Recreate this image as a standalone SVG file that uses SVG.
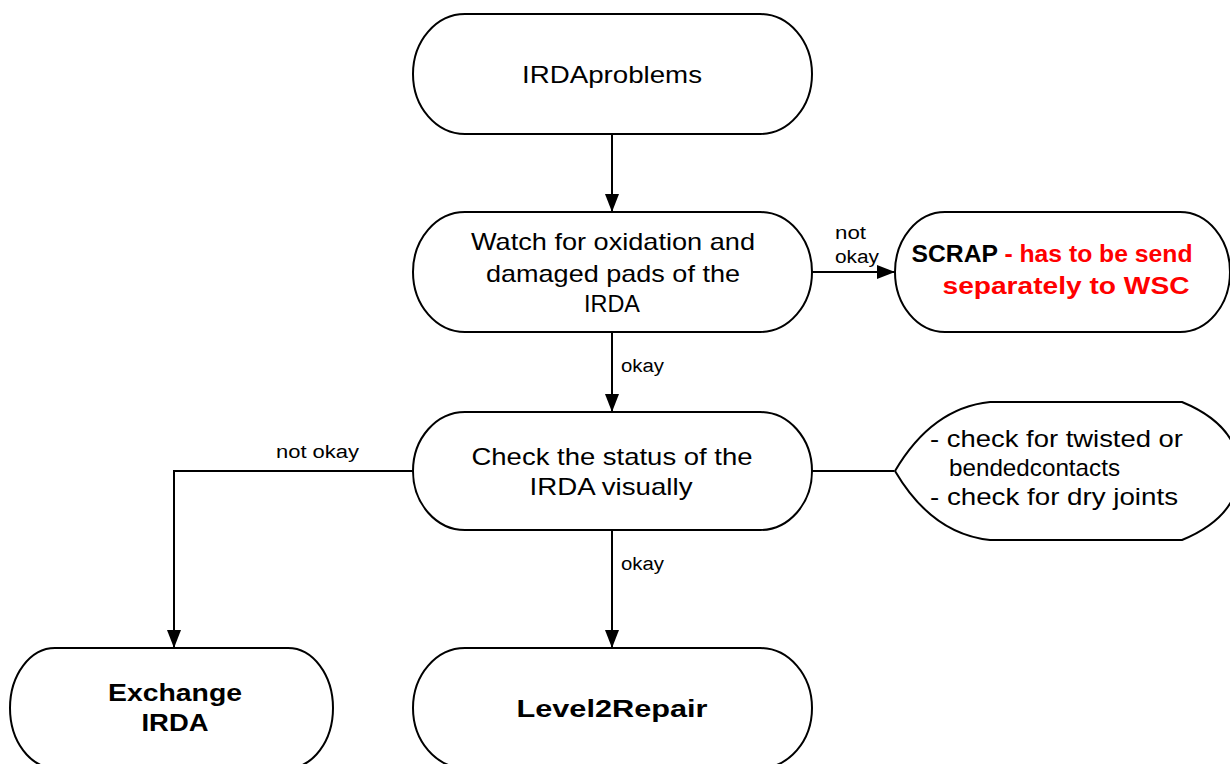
<svg xmlns="http://www.w3.org/2000/svg" width="1230" height="764" viewBox="0 0 1230 764">
<defs>
<marker id="arr" markerUnits="userSpaceOnUse" markerWidth="20" markerHeight="14" refX="18" refY="7" orient="auto">
<path d="M0,0 L18,7 L0,14 Z" fill="#000"/>
</marker>
<style>
.n{fill:#fff;stroke:#000;stroke-width:2}
.t{font-family:"Liberation Sans",Arial,sans-serif;font-size:24px;fill:#000;text-anchor:middle}
.b{font-family:"Liberation Sans",Arial,sans-serif;font-size:23px;font-weight:bold;text-anchor:middle}
.l{font-family:"Liberation Sans",Arial,sans-serif;font-size:18px;fill:#000}
.c{fill:none;stroke:#000;stroke-width:2}
.r{fill:#ff0000}
</style>
</defs>
<rect width="1230" height="764" fill="#fff"/>
<g id="connectors">
<line class="c" x1="612" y1="134" x2="612" y2="212" marker-end="url(#arr)"/>
<line class="c" x1="812" y1="272" x2="895" y2="272" marker-end="url(#arr)"/>
<line class="c" x1="612" y1="332" x2="612" y2="412" marker-end="url(#arr)"/>
<polyline class="c" points="413,471 174,471 174,648" marker-end="url(#arr)"/>
<line class="c" x1="812" y1="471" x2="894" y2="471"/>
<line class="c" x1="612" y1="530" x2="612" y2="648" marker-end="url(#arr)"/>
<text class="l" x="835" y="239" textLength="31" lengthAdjust="spacingAndGlyphs">not</text>
<text class="l" x="835" y="263" textLength="44" lengthAdjust="spacingAndGlyphs">okay</text>
<text class="l" x="621" y="372" textLength="43" lengthAdjust="spacingAndGlyphs">okay</text>
<text class="l" x="276" y="458" textLength="83" lengthAdjust="spacingAndGlyphs">not  okay</text>
<text class="l" x="621" y="570" textLength="43" lengthAdjust="spacingAndGlyphs">okay</text>
</g>
<g id="n1">
<path class="n" d="M465,14 H760 A52,60 0 0 1 760,134 H465 A52,60 0 0 1 465,14 Z"/>
<text class="t" x="612" y="83" textLength="180" lengthAdjust="spacingAndGlyphs">IRDAproblems</text>
</g>
<g id="n2">
<path class="n" d="M465,212 H760 A52,60 0 0 1 760,332 H465 A52,60 0 0 1 465,212 Z"/>
<text class="t" x="613" y="250" textLength="284" lengthAdjust="spacingAndGlyphs">Watch for oxidation and</text>
<text class="t" x="613" y="282" textLength="254" lengthAdjust="spacingAndGlyphs">damaged pads of the</text>
<text class="t" x="612" y="312" textLength="56" lengthAdjust="spacingAndGlyphs">IRDA</text>
</g>
<g id="scrap">
<path class="n" d="M945,212 H1180 A50,60 0 0 1 1180,332 H945 A50,60 0 0 1 945,212 Z"/>
<text class="b" x="1052" y="262" textLength="281" lengthAdjust="spacingAndGlyphs"><tspan fill="#000">SCRAP</tspan><tspan class="r"> - has to be send</tspan></text>
<text class="b r" x="1066" y="294" textLength="247" lengthAdjust="spacingAndGlyphs">separately to WSC</text>
</g>
<g id="n3">
<path class="n" d="M465,412 H760 A52,59 0 0 1 760,530 H465 A52,59 0 0 1 465,412 Z"/>
<text class="t" x="612" y="465" textLength="281" lengthAdjust="spacingAndGlyphs">Check the status of the</text>
<text class="t" x="611" y="495" textLength="163" lengthAdjust="spacingAndGlyphs">IRDA visually</text>
</g>
<g id="note">
<path class="n" d="M895,471 Q932,408 990,402 H1182 Q1238,425 1240,471 Q1238,517 1182,540 H990 Q932,534 895,471 Z"/>
<text class="t" x="930" y="447" style="text-anchor:start" textLength="253" lengthAdjust="spacingAndGlyphs">- check for twisted or</text>
<text class="t" x="949" y="476" style="text-anchor:start" textLength="171" lengthAdjust="spacingAndGlyphs">bendedcontacts</text>
<text class="t" x="930" y="505" style="text-anchor:start" textLength="248" lengthAdjust="spacingAndGlyphs">- check for dry joints</text>
</g>
<g id="exchange">
<path class="n" d="M55,648 H288 A45,60 0 0 1 288,768 H55 A45,60 0 0 1 55,648 Z"/>
<text class="b" x="175" y="701" fill="#000" textLength="134" lengthAdjust="spacingAndGlyphs">Exchange</text>
<text class="b" x="175" y="731" fill="#000" textLength="67" lengthAdjust="spacingAndGlyphs">IRDA</text>
</g>
<g id="level2">
<path class="n" d="M465,648 H760 A52,60 0 0 1 760,768 H465 A52,60 0 0 1 465,648 Z"/>
<text class="b" x="612" y="717" fill="#000" textLength="191" lengthAdjust="spacingAndGlyphs">Level2Repair</text>
</g>
</svg>
